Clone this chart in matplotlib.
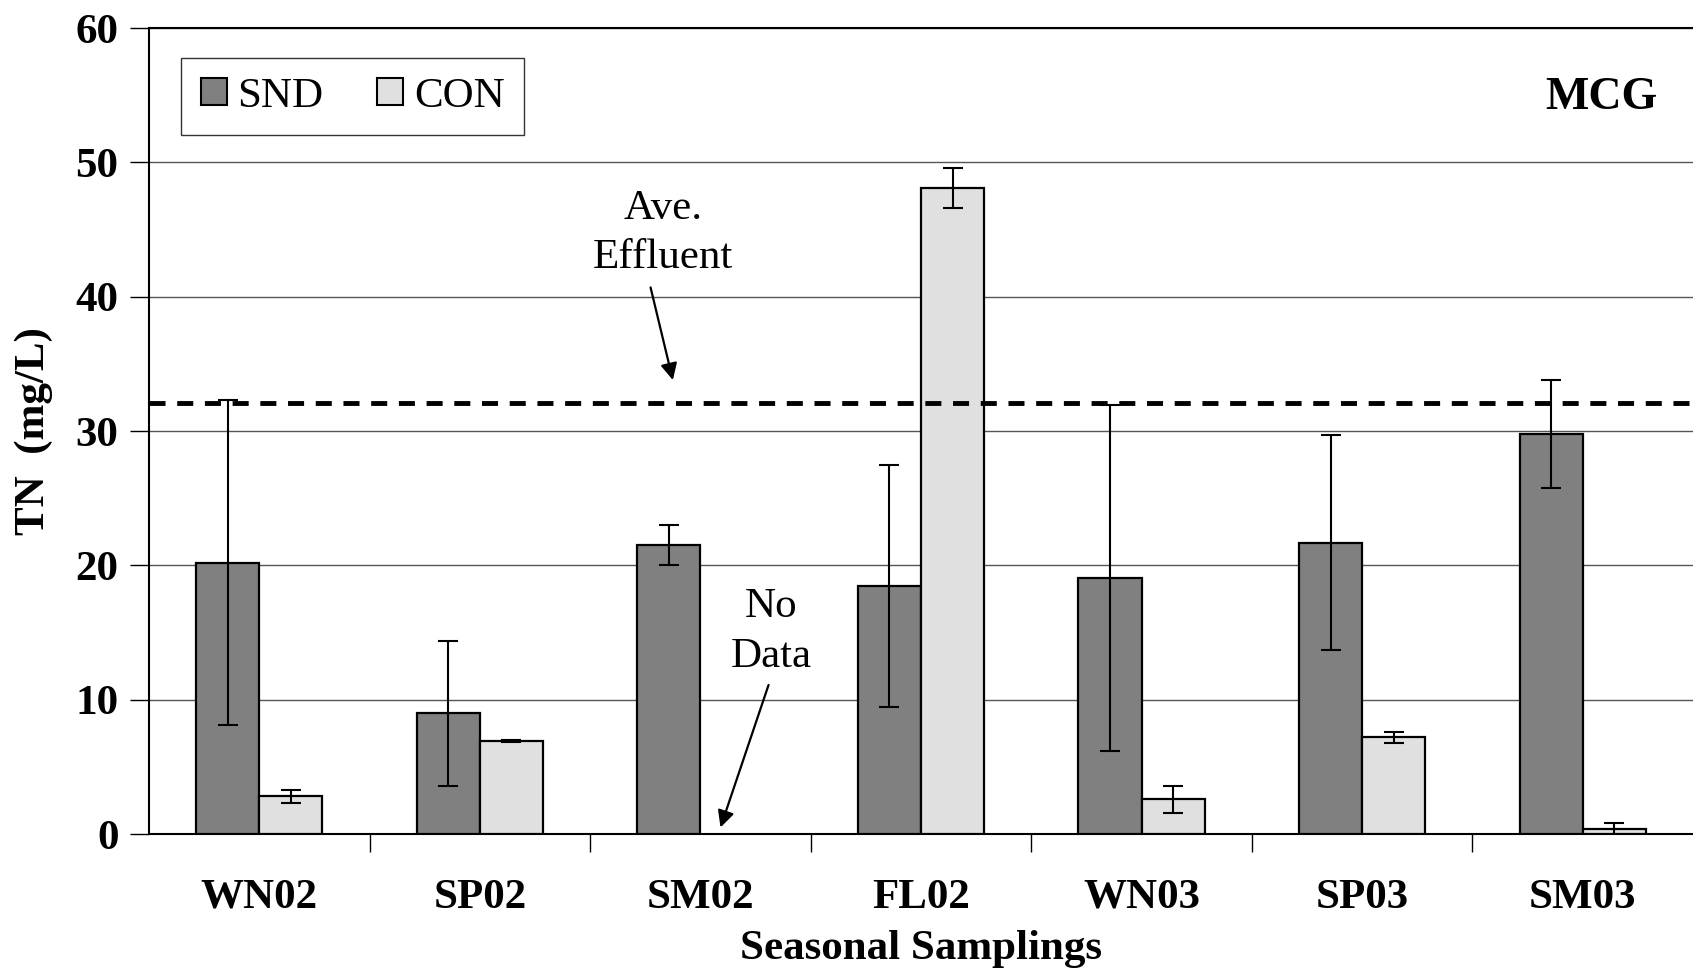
import numpy as np
import matplotlib
matplotlib.use('Agg')
from matplotlib import pyplot as plt
from matplotlib.patches import Patch

plt.rcParams['font.family'] = ['Liberation Serif', 'DejaVu Serif']

seasons = ['WN02', 'SP02', 'SM02', 'FL02', 'WN03', 'SP03', 'SM03']
snd = [20.2, 9.0, 21.5, 18.45, 19.05, 21.7, 29.8]
snd_err = [12.1, 5.4, 1.5, 9.0, 12.9, 8.0, 4.0]
con = [2.8, 6.9, np.nan, 48.1, 2.6, 7.2, 0.35]
con_err = [0.5, 0.08, np.nan, 1.5, 1.0, 0.43, 0.45]
effluent = 32.1

fs = 31

fig = plt.figure(figsize=(16.93, 9.71), dpi=100)
ax = fig.add_axes([0.088, 0.141, 0.912, 0.83])

x = np.arange(len(seasons))
w = 0.286
ax.bar(x - w/2, snd, w, color='#808080', edgecolor='black', lw=1.6, zorder=3)
ax.bar(x + w/2, con, w, color='#e0e0e0', edgecolor='black', lw=1.6, zorder=3)
ax.errorbar(x - w/2, snd, yerr=snd_err, fmt='none', ecolor='black', elinewidth=1.5,
            capsize=7, capthick=1.5, zorder=4)
ax.errorbar(x + w/2, con, yerr=con_err, fmt='none', ecolor='black', elinewidth=1.5,
            capsize=7, capthick=1.5, zorder=4)

ax.axhline(effluent, color='black', lw=3.5, ls=(0, (3.3, 2.4)), zorder=5)

ax.set_xlim(-0.5, 6.5)
ax.set_ylim(0, 60)
ax.set_yticks(range(0, 61, 10))
ax.yaxis.grid(True, color='#555555', lw=1, zorder=0)
ax.set_axisbelow(True)
ax.tick_params(axis='y', direction='out', length=14, width=1, labelsize=fs, pad=8)
for t in ax.get_yticklabels():
    t.set_fontweight('bold')

ax.set_xticks(x)
ax.set_xticklabels(seasons, fontsize=fs, fontweight='bold')
ax.tick_params(axis='x', which='major', length=0, pad=32)
ax.set_xticks(np.arange(0.5, 6.5, 1), minor=True)
ax.tick_params(axis='x', which='minor', direction='out', length=13, width=1)

for s in ['left', 'bottom', 'top']:
    ax.spines[s].set_linewidth(1.5)
    ax.spines[s].set_color('black')
ax.spines['right'].set_visible(False)

ax.set_xlabel('Seasonal Samplings', fontsize=fs, fontweight='bold', labelpad=10)
ax.set_ylabel('TN  (mg/L)', fontsize=fs, fontweight='bold', labelpad=16)

ax.text(0.977, 0.913, 'MCG', transform=ax.transAxes, ha='right', va='center',
        fontsize=33, fontweight='bold')

ax.text(1.832, 44.75, 'Ave.\nEffluent', ha='center', va='center', fontsize=fs,
        linespacing=1.37)
ax.annotate('', xy=(1.878, 33.6), xytext=(1.771, 40.9),
            arrowprops=dict(arrowstyle='-|>', color='black', lw=1.6,
                            mutation_scale=25))
ax.text(2.32, 15.05, 'No\nData', ha='center', va='center', fontsize=fs,
        linespacing=1.37)
ax.annotate('', xy=(2.087, 0.3), xytext=(2.313, 11.3),
            arrowprops=dict(arrowstyle='-|>', color='black', lw=1.6,
                            mutation_scale=25))

handles = [Patch(facecolor='#808080', edgecolor='black', lw=1.5),
           Patch(facecolor='#e0e0e0', edgecolor='black', lw=1.5)]
leg = ax.legend(handles, ['SND', 'CON'], loc='upper left', bbox_to_anchor=(0.021, 0.963),
                ncol=2, fontsize=fs, frameon=True, fancybox=False, handlelength=0.6,
                handleheight=0.6, handletextpad=0.25, columnspacing=1.25,
                borderpad=0.45, borderaxespad=0)
leg.get_frame().set_edgecolor('black')
leg.get_frame().set_linewidth(1)

fig.savefig('out.png', dpi=100)
